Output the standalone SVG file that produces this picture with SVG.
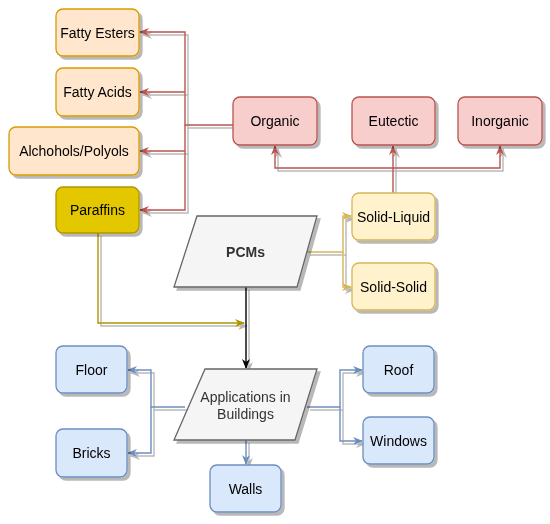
<svg xmlns="http://www.w3.org/2000/svg" width="550" height="524" viewBox="0 0 550 524">
<defs>
<filter id="sh" x="-10%" y="-10%" width="130%" height="130%">
<feDropShadow dx="3" dy="3" stdDeviation="0.6" flood-color="#000" flood-opacity="0.28"/>
</filter>
<marker id="aR" viewBox="0 0 10 10" refX="9" refY="5" markerWidth="10" markerHeight="10" orient="auto" markerUnits="userSpaceOnUse"><path d="M0,1 L10,5 L0,9 L3,5 z" fill="#b85450"/></marker>
<marker id="aY" viewBox="0 0 10 10" refX="9" refY="5" markerWidth="10" markerHeight="10" orient="auto" markerUnits="userSpaceOnUse"><path d="M0,1 L10,5 L0,9 L3,5 z" fill="#d6b656"/></marker>
<marker id="aP" viewBox="0 0 10 10" refX="9" refY="5" markerWidth="10" markerHeight="10" orient="auto" markerUnits="userSpaceOnUse"><path d="M0,1 L10,5 L0,9 L3,5 z" fill="#b09500"/></marker>
<marker id="aK" viewBox="0 0 10 10" refX="9" refY="5" markerWidth="10" markerHeight="10" orient="auto" markerUnits="userSpaceOnUse"><path d="M0,1 L10,5 L0,9 L3,5 z" fill="#000"/></marker>
<marker id="aB" viewBox="0 0 10 10" refX="9" refY="5" markerWidth="10" markerHeight="10" orient="auto" markerUnits="userSpaceOnUse"><path d="M0,1 L10,5 L0,9 L3,5 z" fill="#6c8ebf"/></marker>
</defs>
<style>
text{font-family:"Liberation Sans",Arial,sans-serif;font-size:14px;fill:#000;text-anchor:middle;dominant-baseline:central}
.c{fill:none;stroke-width:1.4}
.or{fill:#ffe6cc;stroke:#d79b00;stroke-width:1.3}
.pa{fill:#e3c800;stroke:#b09500;stroke-width:1.3}
.rd{fill:#f8cecc;stroke:#b85450;stroke-width:1.3}
.yl{fill:#fff2cc;stroke:#d6b656;stroke-width:1.3}
.bl{fill:#dae8fc;stroke:#6c8ebf;stroke-width:1.3}
.gr{fill:#f5f5f5;stroke:#666666;stroke-width:1.3}
</style>
<rect width="550" height="524" fill="#fff"/>
<g id="connectors" filter="url(#sh)">
<path class="c" stroke="#b85450" d="M233,125 H185 V32 H140" marker-end="url(#aR)"/>
<path class="c" stroke="#b85450" d="M185,92 H140" marker-end="url(#aR)"/>
<path class="c" stroke="#b85450" d="M185,151 H140" marker-end="url(#aR)"/>
<path class="c" stroke="#b85450" d="M185,125 V210 H140" marker-end="url(#aR)"/>
<path class="c" stroke="#b85450" d="M393,193 V146" marker-end="url(#aR)"/>
<path class="c" stroke="#b85450" d="M393,168 H275 V146" marker-end="url(#aR)"/>
<path class="c" stroke="#b85450" d="M393,168 H500 V146" marker-end="url(#aR)"/>
<path class="c" stroke="#d6b656" d="M307,252 H343 V216 H351" marker-end="url(#aY)"/>
<path class="c" stroke="#d6b656" d="M343,252 V287 H351" marker-end="url(#aY)"/>
<path class="c" stroke="#b09500" d="M98,233 V323 H244" marker-end="url(#aP)"/>
<path class="c" stroke="#000" d="M246,287 V368" marker-end="url(#aK)"/>
<path class="c" stroke="#6c8ebf" d="M185,407 H151 V370 H128" marker-end="url(#aB)"/>
<path class="c" stroke="#6c8ebf" d="M151,407 V453 H128" marker-end="url(#aB)"/>
<path class="c" stroke="#6c8ebf" d="M307,407 H340 V370 H362" marker-end="url(#aB)"/>
<path class="c" stroke="#6c8ebf" d="M340,407 V441 H362" marker-end="url(#aB)"/>
<path class="c" stroke="#6c8ebf" d="M246,440 V464" marker-end="url(#aB)"/>
</g>
<g filter="url(#sh)">
<g id="fatty-esters"><rect class="or" x="56" y="9" width="83" height="47" rx="7"/><text x="97.5" y="32.5">Fatty Esters</text></g>
<g id="fatty-acids"><rect class="or" x="56" y="68" width="83" height="48" rx="7"/><text x="97.5" y="92">Fatty Acids</text></g>
<g id="alchohols"><rect class="or" x="9" y="127" width="130" height="48" rx="7"/><text x="74" y="151">Alchohols/Polyols</text></g>
<g id="paraffins"><rect class="pa" x="56" y="187" width="83" height="46" rx="7"/><text x="97.5" y="210">Paraffins</text></g>
<g id="organic"><rect class="rd" x="233" y="97" width="84" height="48" rx="7"/><text x="275" y="121">Organic</text></g>
<g id="eutectic"><rect class="rd" x="352" y="97" width="83" height="48" rx="7"/><text x="393.5" y="121">Eutectic</text></g>
<g id="inorganic"><rect class="rd" x="458" y="97" width="84" height="48" rx="7"/><text x="500" y="121">Inorganic</text></g>
<g id="solid-liquid"><rect class="yl" x="352" y="193" width="83" height="47" rx="7"/><text x="393.5" y="216.5">Solid-Liquid</text></g>
<g id="solid-solid"><rect class="yl" x="352" y="263" width="83" height="47" rx="7"/><text x="393.5" y="286.5">Solid-Solid</text></g>
<g id="pcms"><path class="gr" d="M197,216 H317 L297,287 H174 Z"/><text x="245.5" y="251.5" style="font-weight:bold;fill:#333">PCMs</text></g>
<g id="applications"><path class="gr" d="M205,369 H317 L295,440 H174 Z"/><text x="245.5" y="397" style="fill:#333">Applications in</text><text x="245.5" y="414" style="fill:#333">Buildings</text></g>
<g id="floor"><rect class="bl" x="56" y="346" width="71" height="47" rx="7"/><text x="91.5" y="369.5">Floor</text></g>
<g id="bricks"><rect class="bl" x="56" y="429" width="71" height="48" rx="7"/><text x="91.5" y="453">Bricks</text></g>
<g id="walls"><rect class="bl" x="210" y="465" width="71" height="47" rx="7"/><text x="245.5" y="488.5">Walls</text></g>
<g id="roof"><rect class="bl" x="363" y="346" width="71" height="47" rx="7"/><text x="398.5" y="369.5">Roof</text></g>
<g id="windows"><rect class="bl" x="363" y="417" width="71" height="47" rx="7"/><text x="398.5" y="440.5">Windows</text></g>
</g>
</svg>
